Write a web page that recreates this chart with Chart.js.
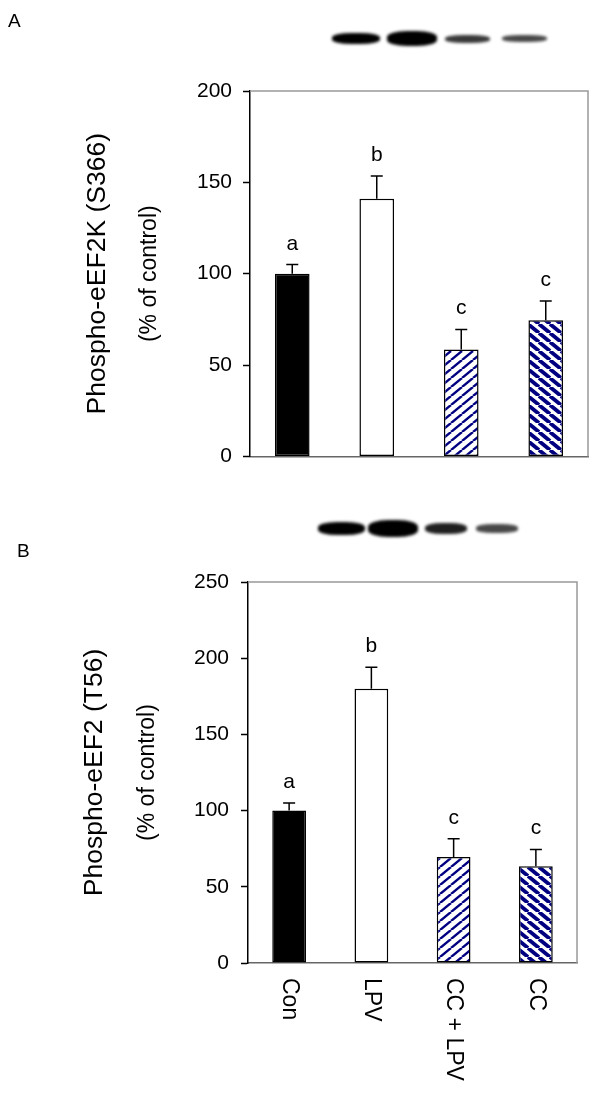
<!DOCTYPE html>
<html><head><meta charset="utf-8">
<script src="https://cdn.jsdelivr.net/npm/chart.js@4/dist/chart.umd.min.js"></script>
<style>
html,body{margin:0;padding:0;background:#fff;}
body{width:600px;height:1094px;position:relative;overflow:hidden;font-family:"Liberation Sans",Arial,sans-serif;}
.wrap{position:absolute;left:0;width:600px;}
#wa{top:0;height:480px;}
#wb{top:480px;height:614px;}
.panel{position:absolute;font-size:19px;line-height:19px;color:#000;}
.band{position:absolute;background:#000;border-radius:40%;filter:blur(1.6px);}
</style></head><body>
<div class="wrap" id="wa"><canvas id="ca"></canvas></div>
<div class="wrap" id="wb"><canvas id="cb"></canvas></div>
<div class="panel" style="left:8px;top:11px">A</div>
<div class="panel" style="left:17px;top:541px">B</div>
<!-- western blot bands (decoration) -->
<div class="band" style="left:332px;top:33px;width:48px;height:11px;"></div>
<div class="band" style="left:387px;top:31px;width:50px;height:15px;"></div>
<div class="band" style="left:445px;top:35px;width:45px;height:8px;opacity:.78"></div>
<div class="band" style="left:502px;top:35px;width:45px;height:7px;opacity:.72"></div>
<div class="band" style="left:318px;top:522px;width:47px;height:13px;"></div>
<div class="band" style="left:368px;top:520px;width:50px;height:17px;"></div>
<div class="band" style="left:425px;top:523px;width:42px;height:11px;opacity:.88"></div>
<div class="band" style="left:476px;top:524px;width:42px;height:9px;opacity:.72"></div>
<script>
// ---------- data ----------
const categories = ['Con', 'LPV', 'CC + LPV', 'CC'];

const eef2kValues  = [100, 141, 58.5, 74.5];
const eef2kErrors  = [5, 12.5, 11, 10.5];
const eef2kLetters = ['a', 'b', 'c', 'c'];
const eef2kTicks   = [0, 50, 100, 150, 200];

const eef2Values  = [100, 180, 69.5, 63.5];
const eef2Errors  = [5, 14, 12, 11];
const eef2Letters = ['a', 'b', 'c', 'c'];
const eef2Ticks   = [0, 50, 100, 150, 200, 250];

// ---------- styles ----------
const FONT = '"Liberation Sans", Arial, sans-serif';
const NAVY = '#000080';
function hatch(dir, lw) {
  const w = 11, h = 9;
  const c = document.createElement('canvas');
  c.width = w; c.height = h;
  const g = c.getContext('2d');
  g.fillStyle = '#fff'; g.fillRect(0, 0, w, h);
  g.strokeStyle = NAVY; g.lineWidth = lw; g.beginPath();
  for (const x0 of [-w, 0, w]) {
    if (dir > 0) { g.moveTo(x0, h); g.lineTo(x0 + w, 0); }
    else { g.moveTo(x0, 0); g.lineTo(x0 + w, h); }
  }
  g.stroke();
  return document.createElement('canvas').getContext('2d').createPattern(c, 'repeat');
}
const fills = ['#000', '#fff', hatch(1, 2.4), hatch(-1, 3.8)];

const decor = {
  id: 'decor',
  afterDatasetsDraw(chart, args, opts) {
    const ctx = chart.ctx, ca = chart.chartArea, ys = chart.scales.y;
    ctx.save();
    ctx.strokeStyle = '#999'; ctx.lineWidth = 1.5;
    ctx.beginPath();
    ctx.moveTo(ca.left, ca.top); ctx.lineTo(ca.right, ca.top); ctx.lineTo(ca.right, ca.bottom);
    ctx.stroke();
    const meta = chart.getDatasetMeta(0);
    const vals = chart.data.datasets[0].data;
    ctx.strokeStyle = '#000'; ctx.lineWidth = 1.5;
    ctx.fillStyle = '#000';
    meta.data.forEach((bar, i) => {
      const v = vals[i], e = opts.errors[i];
      const yTop = ys.getPixelForValue(v + e), yBar = ys.getPixelForValue(v);
      ctx.beginPath();
      ctx.moveTo(bar.x, yBar); ctx.lineTo(bar.x, yTop);
      ctx.moveTo(bar.x - 6, yTop); ctx.lineTo(bar.x + 6, yTop);
      ctx.stroke();
      ctx.font = '21px ' + FONT; ctx.textAlign = 'center'; ctx.textBaseline = 'alphabetic';
      ctx.fillText(opts.letters[i], bar.x, yTop - 15);
    });
    if (opts.xLabels) {
      const xs = chart.scales.x;
      ctx.font = '23px ' + FONT; ctx.textAlign = 'left'; ctx.textBaseline = 'middle';
      chart.data.labels.forEach((lab, i) => {
        ctx.save();
        ctx.translate(xs.getPixelForValue(i), ca.bottom + 15);
        ctx.rotate(Math.PI / 2);
        ctx.fillText(lab, 0, 0);
        ctx.restore();
      });
    }
    ctx.restore();
  }
};

function makeChart(id, values, errors, letters, ticks, title, cfg) {
  return new Chart(document.getElementById(id), {
    type: 'bar',
    data: {
      labels: categories,
      datasets: [{
        data: values,
        yAxisID: 'y',
        backgroundColor: fills,
        borderColor: '#000',
        borderWidth: 1.5,
        borderSkipped: false,
        categoryPercentage: 1,
        barPercentage: 0.41
      }]
    },
    options: {
      responsive: true, maintainAspectRatio: false, animation: false,
      layout: { padding: cfg.padding },
      plugins: {
        legend: { display: false }, tooltip: { enabled: false },
        decor: { errors: errors, letters: letters, xLabels: cfg.xLabels }
      },
      scales: {
        x: {
          type: 'category',
          ticks: { display: false },
          grid: { display: false },
          border: { display: true, color: '#666', width: 1.5 },
          afterFit(s) { s.height = 0; }
        },
        y: {
          type: 'linear', position: 'left', weight: 0,
          min: ticks[0], max: ticks[ticks.length - 1],
          afterBuildTicks(s) { s.ticks = ticks.map(v => ({ value: v })); },
          ticks: { color: '#000', font: { size: 21, family: FONT }, padding: cfg.tickPad },
          grid: { display: true, drawOnChartArea: false, drawTicks: true, tickLength: 7, tickColor: '#000', tickWidth: 1.5 },
          border: { display: true, color: '#000', width: 1.5 },
          title: { display: true, text: '(% of control)', color: '#000', font: { size: 23, family: FONT }, padding: { top: cfg.t2pad, bottom: 0 } },
          afterFit(s) { s.width = cfg.w2; }
        },
        yt: {
          type: 'linear', position: 'left', weight: 1,
          ticks: { display: false },
          grid: { display: false },
          border: { display: false },
          title: { display: true, text: title, color: '#000', font: { size: 26.5, family: FONT }, padding: { top: cfg.t1pad, bottom: 0 } },
          afterFit(s) { s.width = cfg.w1; }
        }
      }
    },
    plugins: [decor]
  });
}

makeChart('ca', eef2kValues, eef2kErrors, eef2kLetters, eef2kTicks, 'Phospho-eEF2K (S366)',
  { padding: { top: 91, right: 12, bottom: 23, left: 0 }, w1: 125, w2: 125, t1pad: 82, t2pad: 11, tickPad: 11, xLabels: false });
makeChart('cb', eef2Values, eef2Errors, eef2Letters, eef2Ticks, 'Phospho-eEF2 (T56)',
  { padding: { top: 102, right: 23, bottom: 131, left: 0 }, w1: 124, w2: 124, t1pad: 79, t2pad: 10, tickPad: 12, xLabels: true });
</script>
</body></html>
